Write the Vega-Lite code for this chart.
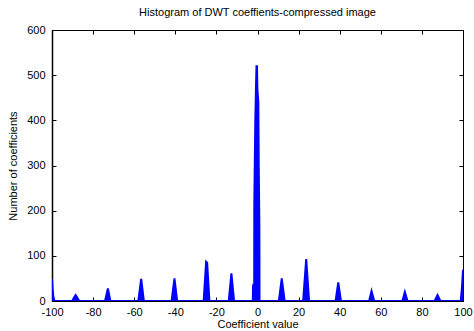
{
  "$schema": "https://vega.github.io/schema/vega-lite/v6.json",
  "width": 411,
  "height": 271,
  "autosize": {"type": "none"},
  "padding": {"left": 52, "top": 30, "right": 11, "bottom": 30},
  "background": "white",
  "title": {"text": "Histogram of DWT coeffients-compressed image", "font": "Liberation Sans", "fontSize": 11, "fontWeight": "normal", "color": "black", "offset": 6, "anchor": "middle"},
  "config": {
    "view": {"stroke": "black", "strokeWidth": 1},
    "axis": {"grid": false, "domainColor": "black", "tickColor": "black", "labelColor": "black", "titleColor": "black", "labelFont": "Liberation Sans", "titleFont": "Liberation Sans", "labelFontSize": 11, "titleFontSize": 11, "titleFontWeight": "normal", "labelFlush": false}
  },
  "data": {"values": [
    {"x": -100, "y": 48}, {"x": -99.7, "y": 25}, {"x": -99.3, "y": 8}, {"x": -98.8, "y": 0},
    {"x": -90.2, "y": 0}, {"x": -89.2, "y": 8}, {"x": -88.5, "y": 13}, {"x": -87.8, "y": 8}, {"x": -86.8, "y": 0},
    {"x": -74.2, "y": 0}, {"x": -72.8, "y": 28}, {"x": -71.6, "y": 0},
    {"x": -58, "y": 0}, {"x": -56.6, "y": 49}, {"x": -55.3, "y": 0},
    {"x": -41.8, "y": 0}, {"x": -40.4, "y": 50}, {"x": -39.1, "y": 0},
    {"x": -26.2, "y": 0}, {"x": -25, "y": 87}, {"x": -24.5, "y": 85}, {"x": -23.4, "y": 0},
    {"x": -14, "y": 0}, {"x": -12.7, "y": 61}, {"x": -11.4, "y": 0},
    {"x": -2.3, "y": 0}, {"x": -2.15, "y": 35}, {"x": -1.95, "y": 35}, {"x": -1.8, "y": 0}, {"x": -1.62, "y": 0},
    {"x": -1.55, "y": 214}, {"x": -1.07, "y": 400}, {"x": -0.75, "y": 470}, {"x": -0.5, "y": 520}, {"x": -0.25, "y": 520},
    {"x": -0.05, "y": 470}, {"x": 0.4, "y": 440}, {"x": 0.6, "y": 300}, {"x": 0.9, "y": 170}, {"x": 0.98, "y": 0},
    {"x": 10.4, "y": 0}, {"x": 11.8, "y": 50}, {"x": 13.2, "y": 0},
    {"x": 22.2, "y": 0}, {"x": 23.7, "y": 93}, {"x": 25.1, "y": 0},
    {"x": 38, "y": 0}, {"x": 39.3, "y": 41}, {"x": 40.6, "y": 0},
    {"x": 54.3, "y": 0}, {"x": 55.5, "y": 22}, {"x": 56.8, "y": 0},
    {"x": 70.5, "y": 0}, {"x": 71.7, "y": 20}, {"x": 73, "y": 0},
    {"x": 86.2, "y": 0}, {"x": 87.6, "y": 13}, {"x": 89, "y": 0},
    {"x": 98.9, "y": 0}, {"x": 99.5, "y": 30}, {"x": 100, "y": 69}
  ]},
  "layer": [
    {
      "mark": {"type": "area", "color": "#0000ff", "opacity": 1, "clip": true},
      "encoding": {
        "x": {"field": "x", "type": "quantitative", "scale": {"domain": [-100, 100], "nice": false, "zero": false},
              "axis": {"orient": "bottom", "values": [-100, -80, -60, -40, -20, 0, 20, 40, 60, 80, 100], "labelExpr": "datum.value < 0 ? '-' + abs(datum.value) : '' + datum.value", "tickSize": -4, "labelPadding": 9, "title": "Coefficient value", "titlePadding": 1}},
        "y": {"field": "y", "type": "quantitative", "scale": {"domain": [0, 600], "nice": false},
              "axis": {"orient": "left", "values": [0, 100, 200, 300, 400, 500, 600], "tickSize": -4, "labelPadding": 11, "title": "Number of coefficients", "titlePadding": 8, "domainWidth": 1.5}}
      }
    },
    {
      "mark": {"type": "line", "color": "#0000ff", "strokeWidth": 2, "clip": true},
      "encoding": {
        "x": {"field": "x", "type": "quantitative", "scale": {"domain": [-100, 100], "nice": false, "zero": false},
              "axis": {"orient": "top", "values": [-100, -80, -60, -40, -20, 0, 20, 40, 60, 80, 100], "tickSize": -4, "labels": false, "title": null}},
        "y": {"field": "y", "type": "quantitative", "scale": {"domain": [0, 600], "nice": false},
              "axis": {"orient": "right", "values": [0, 100, 200, 300, 400, 500, 600], "tickSize": -4, "labels": false, "title": null}}
      }
    }
  ],
  "resolve": {"axis": {"x": "independent", "y": "independent"}}
}
